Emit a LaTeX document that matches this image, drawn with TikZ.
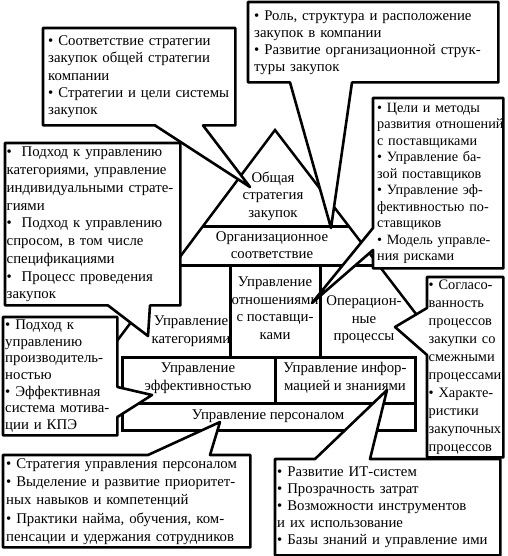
\documentclass[tikz,border=0pt]{standalone}
\usepackage{fontspec}
\setmainfont{Liberation Serif}
\usetikzlibrary{calc}
\pgfdeclarelayer{house}
\pgfdeclarelayer{callbg}
\pgfsetlayers{house,callbg,main}
\newcommand\callines[1]{\begin{tabular}{@{}l@{}}#1\end{tabular}}
\tikzset{
  wall/.style={line width=3pt},
  roofline/.style={line width=2.5pt},
  lbl/.style={align=center, inner sep=0pt, font=\fontsize{14.8}{17.5}\selectfont},
  cbox/.style n args={4}{anchor=north west, inner xsep=0pt, inner ysep=0pt,
     minimum width=#1pt, minimum height=#2pt, text width=#3pt, align=left,
     font=\fontsize{14.8}{#4}\selectfont},
  outline/.style={draw, fill=white, line width=2.6pt, line join=round},
}
\begin{document}
\begin{tikzpicture}[x=1pt,y=-1pt]
\useasboundingbox (0,0) rectangle (507,556);
% ---------- house ----------
\begin{pgfonlayer}{house}
  \draw[roofline] (105,357) -- (275,130) -- (449,357);
  \draw[wall] (203,226) -- (348.5,226);
  \draw[wall] (174,265) -- (378.4,265);
  \draw[wall] (230,265) rectangle (320,357);
  \draw[wall] (122,357) rectangle (415,430);
  \draw[wall] (122,403) -- (415,403);
  \draw[wall] (275,357) -- (275,403);
\end{pgfonlayer}
\node[lbl] (gen)  at (273,196) {Общая\\стратегия\\закупок};
\node[lbl] (org)  at (272,245) {Организационное\\соответствие};
\node[lbl] (srm)  at (275,308) {Управление\\отношениями\\с поставщи-\\ками};
\node[lbl] (cat)  at (191,331) {Управление\\категориями};
\node[lbl] (ops)  at (364,320) {Операцион-\\ные\\процессы};
\node[lbl] (perf) at (198,378) {Управление\\эффективностью};
\node[lbl] (info) at (345,378) {Управление инфор-\\мацией и знаниями};
\node[lbl] (hr)   at (268,416) {Управление персоналом};
% ---------- pointer tips ----------
\coordinate (ta) at (250,187);
\coordinate (tb) at (331,228);
\coordinate (tc) at (312,303);
\coordinate (td) at (148,336);
\coordinate (te) at (152,395);
\coordinate (tf) at (395,327);
\coordinate (tg) at (220,422);
\coordinate (th) at (387,390);
% ---------- callouts ----------
\node[cbox={192}{97}{182}{17.25}] (sa) at (43,28)
  {\callines{• Соответствие стратегии\\закупок общей стратегии\\компании\\• Стратегии и цели системы\\закупок}};
\node[cbox={250}{80}{238}{17}] (sb) at (248,2)
  {\callines{• Роль, структура и расположение\\закупок в компании\\• Развитие организационной струк-\\туры закупок}};
\node[cbox={130}{170}{122}{16.5}, font=\fontsize{14.2}{16.5}\selectfont] (sc) at (373,98)
  {\callines{• Цели и методы\\развития отношений\\с поставщиками\\• Управление ба-\\зой поставщиков\\• Управление эф-\\фективностью по-\\ставщиков\\• Модель управле-\\ния рисками}};
\node[cbox={175}{162}{172}{17.75}] (sd) at (5,143)
  {\callines{•\ \ Подход к управлению\\категориями, управление\\индивидуальными страте-\\гиями\\•\ \ Подход к управлению\\спросом, в том числе\\спецификациями\\•\ \ Процесс проведения\\закупок}};
\node[cbox={114}{118}{110}{16.7}] (se) at (3,317)
  {\callines{• Подход к\\управлению\\производитель-\\ностью\\• Эффективная\\система мотива-\\ции и КПЭ}};
\node[cbox={76}{180}{73}{18}, font=\fontsize{14.4}{18}\selectfont] (sf) at (427,277)
  {\callines{• Согласо-\\ванность\\процессов\\закупки со\\смежными\\процессами\\• Характе-\\ристики\\закупочных\\процессов}};
\node[cbox={247}{92}{241}{18.3}] (sg) at (3,455)
  {\callines{• Стратегия управления персоналом\\• Выделение и развитие приоритет-\\ных навыков и компетенций\\• Практики найма, обучения, ком-\\пенсации и удержания сотрудников}};
\node[cbox={225}{96}{221}{17}] (sh) at (275,459)
  {\callines{• Развитие ИТ-систем\\• Прозрачность затрат\\• Возможности инструментов\\и их использование\\• Базы знаний и управление ими}};
\begin{pgfonlayer}{callbg}
  \draw[outline] (sa.north west) -- (sa.north east) -- (sa.south east)
     -- ($(sa.south west)+(160,0)$) -- (ta) -- ($(sa.south west)+(112,0)$) -- (sa.south west) -- cycle;
  \draw[outline] (sb.north west) -- (sb.north east) -- (sb.south east)
     -- ($(sb.south west)+(104,0)$) -- (tb) -- ($(sb.south west)+(42,0)$) -- (sb.south west) -- cycle;
  \draw[outline] (sc.north west) -- (sc.north east) -- (sc.south east) -- (sc.south west)
     -- ($(sc.north west)+(0,152)$) -- (tc) -- ($(sc.north west)+(0,130)$) -- cycle;
  \draw[outline] (sd.north west) -- (sd.north east) -- (sd.south east)
     -- ($(sd.south west)+(145,0)$) -- (td) -- ($(sd.south west)+(103,0)$) -- (sd.south west) -- cycle;
  \draw[outline] (se.north west) -- (se.north east) -- ($(se.north east)+(0,70)$) -- (te)
     -- ($(se.north east)+(0,100)$) -- (se.south east) -- (se.south west) -- cycle;
  \draw[outline] (sh.north west) -- ($(sh.north west)+(40,0)$) -- (th) -- ($(sh.north west)+(95,0)$)
     -- (sh.north east) -- (sh.south east) -- (sh.south west) -- cycle;
  \draw[outline] (sf.north west) -- (sf.north east) -- (sf.south east) -- (sf.south west)
     -- ($(sf.north west)+(0,78)$) -- (tf) -- ($(sf.north west)+(0,31)$) -- cycle;
  \draw[outline] (sg.north west) -- ($(sg.north west)+(145,0)$) -- (tg) -- ($(sg.north west)+(207,0)$)
     -- (sg.north east) -- (sg.south east) -- (sg.south west) -- cycle;
\end{pgfonlayer}
\end{tikzpicture}
\end{document}
